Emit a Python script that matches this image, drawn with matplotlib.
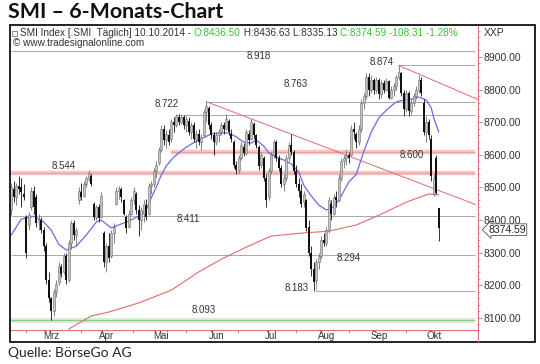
import numpy as np
import matplotlib.pyplot as plt
import matplotlib.transforms as mtransforms
from matplotlib.patches import Rectangle
from matplotlib.lines import Line2D

plt.rcParams['font.family'] = ['Liberation Sans', 'DejaVu Sans']

# daily candles, SMI Index, Feb - 10.10.2014
opens = [8430, 8495, 8470, 8505, 8500, 8480, 8410, 8385, 8440, 8490,
         8470, 8395, 8400, 8370, 8320, 8215, 8160, 8120, 8180, 8210,
         8255, 8240, 8290, 8215, 8330, 8390, 8355, 8460, 8485, 8475,
         8510, 8525, 8535, 8450, 8410, 8440, 8410, 8360, 8270, 8320,
         8290, 8360, 8450, 8490, 8495, 8460, 8410, 8380, 8420, 8460,
         8480, 8430, 8400, 8420, 8445, 8420, 8505, 8510, 8550, 8575,
         8615, 8680, 8645, 8660, 8650, 8700, 8690, 8715, 8700, 8715,
         8690, 8705, 8670, 8690, 8650, 8665, 8640, 8660, 8730, 8745,
         8690, 8660, 8640, 8660, 8670, 8690, 8680, 8705, 8665, 8640,
         8570, 8555, 8590, 8625, 8605, 8665, 8650, 8695, 8660, 8625,
         8570, 8590, 8530, 8470, 8550, 8600, 8640, 8590, 8560, 8510,
         8530, 8590, 8630, 8610, 8550, 8510, 8490, 8455, 8460, 8380,
         8300, 8250, 8215, 8270, 8290, 8340, 8330, 8370, 8450, 8420,
         8470, 8460, 8530, 8580, 8590, 8600, 8600, 8680, 8665, 8640,
         8680, 8760, 8780, 8840, 8800, 8830, 8800, 8830, 8785, 8820,
         8800, 8825, 8775, 8800, 8810, 8840, 8850, 8790, 8740, 8790,
         8735, 8760, 8780, 8800, 8830, 8760, 8670, 8700, 8650, 8480,
         8590, 8436.50]
highs = [8515, 8520, 8515, 8535, 8530, 8510, 8415, 8425, 8500, 8505,
         8480, 8420, 8410, 8380, 8330, 8240, 8165, 8190, 8215, 8270,
         8265, 8300, 8300, 8340, 8400, 8400, 8380, 8500, 8515, 8520,
         8535, 8553, 8540, 8455, 8445, 8450, 8485, 8365, 8330, 8360,
         8370, 8390, 8500, 8505, 8500, 8465, 8415, 8430, 8470, 8500,
         8485, 8445, 8440, 8460, 8465, 8515, 8520, 8560, 8580, 8625,
         8690, 8690, 8675, 8680, 8710, 8715, 8725, 8725, 8722, 8722,
         8720, 8715, 8700, 8700, 8675, 8680, 8665, 8740, 8763, 8750,
         8700, 8670, 8670, 8680, 8700, 8700, 8725, 8710, 8680, 8645,
         8580, 8600, 8640, 8635, 8680, 8675, 8710, 8700, 8665, 8630,
         8610, 8595, 8540, 8560, 8610, 8650, 8645, 8600, 8570, 8540,
         8600, 8640, 8665, 8615, 8570, 8530, 8510, 8490, 8465, 8400,
         8320, 8270, 8280, 8300, 8350, 8360, 8380, 8470, 8460, 8480,
         8490, 8540, 8590, 8600, 8615, 8610, 8690, 8700, 8670, 8690,
         8770, 8790, 8850, 8850, 8845, 8835, 8840, 8835, 8830, 8830,
         8835, 8830, 8810, 8820, 8845, 8874, 8855, 8800, 8800, 8795,
         8770, 8790, 8810, 8845, 8840, 8770, 8720, 8710, 8660, 8540,
         8600, 8436.63]
lows = [8415, 8455, 8445, 8480, 8440, 8460, 8285, 8370, 8430, 8420,
        8380, 8370, 8360, 8305, 8205, 8150, 8093, 8105, 8165, 8200,
        8225, 8235, 8205, 8210, 8310, 8340, 8320, 8450, 8460, 8470,
        8500, 8520, 8505, 8400, 8400, 8395, 8405, 8255, 8240, 8270,
        8285, 8330, 8445, 8465, 8455, 8415, 8360, 8375, 8415, 8450,
        8420, 8350, 8370, 8395, 8400, 8415, 8480, 8500, 8530, 8570,
        8610, 8630, 8620, 8630, 8640, 8670, 8685, 8690, 8695, 8680,
        8670, 8660, 8650, 8640, 8620, 8630, 8615, 8655, 8700, 8680,
        8650, 8600, 8630, 8640, 8660, 8665, 8675, 8660, 8640, 8560,
        8540, 8545, 8585, 8595, 8600, 8630, 8645, 8650, 8620, 8555,
        8560, 8520, 8440, 8460, 8540, 8590, 8580, 8550, 8500, 8490,
        8520, 8580, 8600, 8540, 8500, 8470, 8440, 8440, 8365, 8290,
        8230, 8183, 8205, 8250, 8280, 8320, 8320, 8360, 8400, 8415,
        8440, 8455, 8520, 8560, 8570, 8575, 8595, 8650, 8620, 8630,
        8670, 8740, 8770, 8780, 8790, 8785, 8790, 8770, 8775, 8790,
        8795, 8770, 8770, 8780, 8800, 8830, 8780, 8720, 8730, 8720,
        8725, 8750, 8770, 8790, 8780, 8660, 8640, 8650, 8520, 8475,
        8480, 8335.13]
closes = [8500, 8470, 8505, 8495, 8485, 8470, 8300, 8415, 8490, 8440,
          8390, 8400, 8370, 8320, 8215, 8160, 8120, 8180, 8205, 8260,
          8235, 8290, 8215, 8330, 8390, 8355, 8370, 8490, 8470, 8510,
          8530, 8545, 8510, 8410, 8440, 8405, 8475, 8270, 8320, 8285,
          8360, 8380, 8490, 8495, 8470, 8420, 8375, 8420, 8460, 8490,
          8430, 8400, 8430, 8450, 8410, 8505, 8510, 8550, 8570, 8615,
          8680, 8645, 8665, 8640, 8700, 8690, 8720, 8700, 8715, 8690,
          8710, 8670, 8690, 8650, 8665, 8640, 8655, 8730, 8750, 8690,
          8660, 8640, 8660, 8670, 8690, 8680, 8710, 8670, 8650, 8570,
          8555, 8590, 8630, 8605, 8670, 8645, 8700, 8660, 8630, 8565,
          8600, 8530, 8460, 8550, 8600, 8640, 8590, 8560, 8510, 8530,
          8590, 8630, 8610, 8550, 8510, 8490, 8450, 8480, 8375, 8300,
          8250, 8210, 8270, 8290, 8340, 8330, 8370, 8460, 8420, 8470,
          8460, 8530, 8580, 8590, 8600, 8590, 8680, 8670, 8640, 8680,
          8760, 8780, 8840, 8800, 8830, 8800, 8830, 8785, 8820, 8800,
          8825, 8775, 8800, 8810, 8840, 8855, 8790, 8740, 8790, 8735,
          8760, 8780, 8800, 8830, 8790, 8670, 8700, 8660, 8535, 8530,
          8483, 8374.59]

# blue short average and red long average
blue_idx = [0, 4, 9, 13, 16, 19, 22, 26, 30, 34, 36, 40, 43, 47, 51, 54, 56, 58, 60, 62,
            65, 69, 72, 76, 80, 83, 87, 90, 93, 96, 98, 101, 103, 106, 109, 112, 115, 117, 120, 123,
            126, 129, 132, 135, 138, 141, 144, 147, 151, 154, 157, 160, 163, 166, 168, 169, 171]
blue_val = [8354, 8403, 8412, 8394, 8369, 8326, 8308, 8320, 8354, 8394, 8400, 8376, 8385, 8397, 8412, 8431, 8468, 8501, 8538, 8566,
            8593, 8618, 8633, 8649, 8664, 8667, 8667, 8655, 8639, 8636, 8645, 8627, 8606, 8593, 8584, 8572, 8547, 8507, 8474, 8446,
            8431, 8440, 8474, 8517, 8540, 8610, 8670, 8713, 8744, 8762, 8768, 8771, 8777, 8768, 8744, 8713, 8670]
red_idx = [23, 32, 39, 51, 64, 75, 84, 94, 104, 116, 127, 138, 148, 158, 167, 171]
red_val = [8066, 8106, 8118, 8146, 8185, 8241, 8280, 8317, 8351, 8360, 8366, 8385, 8418, 8455, 8480, 8477]

# horizontal marks: level, start index
grey_levels = [8918, 8874, 8763, 8722, 8411, 8294, 8183]
grey_start = [0, 155, 78, 66, 0, 0, 122]
pink_levels = [8610, 8544]
pink_start = [64, 0]
green_level = 8093
level_labels = ['8.918', '8.874', '8.763', '8.722', '8.600', '8.544', '8.411', '8.294', '8.183', '8.093']
label_x = [99, 148, 114, 62, 160, 21, 71, 135, 114, 77]
label_y = [8903, 8884, 8816, 8755, 8598, 8567, 8403, 8285, 8191, 8125]

# trend lines (start idx, start value, end idx, end value)
trend1 = (78, 8763, 185.6, 8448)
trend2 = (155, 8874, 187.2, 8768)

months = ['Mrz', 'Apr', 'Mai', 'Jun', 'Jul', 'Aug', 'Sep', 'Okt']
month_lab_pos = [16, 38, 60, 82, 104, 126, 147.2, 169.2]
month_tick_pos = [6, 28, 48.8, 70, 90.8, 114, 135.2, 158]

W, H = 540, 364
fig = plt.figure(figsize=(W / 100, H / 100), dpi=100)


def fx(px):
    return px / W


def fy(py):
    return 1 - py / H


ax = fig.add_axes([fx(10), fy(330), fx(478) - fx(10), fy(25) - fy(330)])
ax.set_xlim(-0.5, 186.7)
ax.set_ylim(8063, 8998)

x_end = 185.6
# levels
ax.axhspan(8085, 8101, xmin=0, xmax=(x_end + 0.5) / 187.2, color='#d6ecd3', lw=0)
ax.hlines(green_level, 0, x_end, color='#8cc98a', lw=0.8)
for lv, st in zip(pink_levels, pink_start):
    ax.hlines(lv, st, x_end, color='#f7c4c4', lw=3.2)
    ax.hlines(lv, st, x_end, color='#ec9a9a', lw=0.6)
for lv, st in zip(grey_levels, grey_start):
    ax.hlines(lv, st, x_end, color='#a8a8a8', lw=0.7)
ax.vlines(122, 8183, 8270, color='#a8a8a8', lw=0.7)

for t in (trend1, trend2):
    ax.plot([t[0], t[2]], [t[1], t[3]], color='#e26a6a', lw=0.7)

ax.plot(red_idx, red_val, color='#e26a6a', lw=0.8)
ax.plot(blue_idx, blue_val, color='#6a6ae6', lw=0.9)

# candles
o = np.array(opens, dtype=float)
c = np.array(closes, dtype=float)
idx = np.arange(len(c))
up = c >= o
ax.vlines(idx, lows, highs, colors=np.where(up, '#6e6e6e', '#111111'), lw=0.6, zorder=3)
ax.bar(idx[up], (c - o)[up], bottom=o[up], width=0.8, color='#c4c4c4',
       edgecolor='#6e6e6e', lw=0.4, zorder=4)
ax.bar(idx[~up], (o - c)[~up], bottom=c[~up], width=0.8, color='#111111', lw=0, zorder=4)

for txt, lx, ly in zip(level_labels, label_x, label_y):
    ax.text(lx, ly, txt, fontsize=7, color='#333333', ha='center', va='center')

# axes look
for s in ('left', 'top'):
    ax.spines[s].set_visible(False)
ax.spines['right'].set_color('#e07070')
ax.spines['right'].set_linewidth(0.8)
ax.spines['bottom'].set_color('#e07070')
ax.spines['bottom'].set_linewidth(0.8)

ax.yaxis.tick_right()
yt = np.arange(8100, 8901, 100)
ax.set_yticks(yt)
ax.set_yticklabels([f'{v:.2f}' for v in yt])
ax.set_yticks(np.arange(8080, 8990, 20), minor=True)
ax.tick_params(axis='y', which='major', length=3, width=0.6, color='#e07070',
               labelsize=7.5, labelcolor='#333333', pad=1)
ax.tick_params(axis='y', which='minor', length=1.5, width=0.5, color='#e07070')

ax.set_xticks(month_tick_pos)
ax.set_xticklabels([])
ax.set_xticks(month_lab_pos, minor=True)
ax.set_xticklabels(months, minor=True)
ax.tick_params(axis='x', which='major', length=2.5, width=0.6, color='#888888')
ax.tick_params(axis='x', which='minor', length=0, labelsize=7, labelcolor='#333333', pad=0.5)

trans = mtransforms.blended_transform_factory(ax.transAxes, ax.transData)
ax.text(1.022, closes[-1] - 4, f'{closes[-1]:.2f}', transform=trans, fontsize=7.5, color='#222222',
        va='center', ha='left', clip_on=False,
        bbox=dict(boxstyle='larrow,pad=0.08', fc='white', ec='#555555', lw=0.6))

# frame and header
fig.patches.append(Rectangle((fx(10), fy(342)), fx(535) - fx(10), fy(25) - fy(342),
                             transform=fig.transFigure, fill=False, ec='#111111', lw=1.3))
fig.lines.append(Line2D([fx(478), fx(478)], [fy(330), fy(342)], transform=fig.transFigure,
                        color='#e07070', lw=0.8))
fig.patches.append(Rectangle((fx(12), fy(36)), fx(5), 5 / H, transform=fig.transFigure,
                             fill=False, ec='#777777', lw=0.6))

header = [('SMI Index [.SMI  Täglich] 10.10.2014 - ', '#333333'),
          ('O:8436.50', '#3cbf3c'),
          (' H:8436.63 L:8335.13 ', '#333333'),
          ('C:8374.59 -108.31 -1.28%', '#3cbf3c')]
r = fig.canvas.get_renderer()
hx = fx(20)
hy = fy(33)
for s, col in header:
    t = fig.text(hx, hy, s, fontsize=7.2, color=col, va='center')
    hx = t.get_window_extent(renderer=r).x1 / W
fig.text(fx(13), fy(43), '© www.tradesignalonline.com', fontsize=7.2, color='#333333', va='center')
fig.text(fx(484), hy, 'XXP', fontsize=7.5, color='#333333', va='center')

fig.text(fx(8), fy(12), 'SMI – 6-Monats-Chart', fontsize=15.4, fontweight='bold',
         family=['Lato', 'DejaVu Sans'], color='#111111', va='center')
fig.text(fx(8), fy(353), 'Quelle: BörseGo AG', fontsize=10,
         family=['Lato', 'DejaVu Sans'], color='#222222', va='center')

fig.savefig('out.png', dpi=100)
